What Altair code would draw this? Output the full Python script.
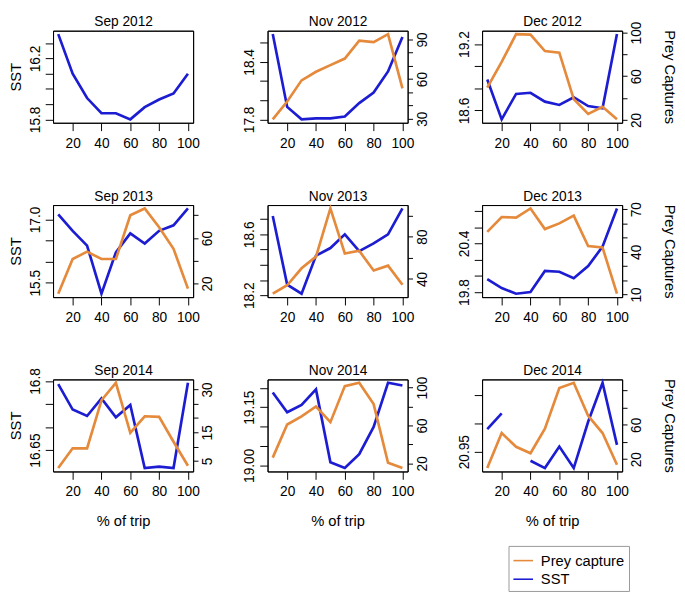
import altair as alt
import pandas as pd

# ---------------- data ----------------
pct = [10, 20, 30, 40, 50, 60, 70, 80, 90, 100]

titles = ["Sep 2012", "Nov 2012", "Dec 2012",
          "Sep 2013", "Nov 2013", "Dec 2013",
          "Sep 2014", "Nov 2014", "Dec 2014"]

sst_sep2012 = [16.36, 16.10, 15.94, 15.84, 15.84, 15.80, 15.88, 15.93, 15.97, 16.10]
sst_nov2012 = [18.69, 17.93, 17.80, 17.81, 17.81, 17.83, 17.97, 18.08, 18.30, 18.66]
sst_dec2012 = [18.88, 18.52, 18.75, 18.76, 18.68, 18.65, 18.72, 18.64, 18.62, 19.29]
sst_sep2013 = [17.12, 16.73, 16.38, 15.24, 16.22, 16.67, 16.43, 16.73, 16.86, 17.26]
sst_nov2013 = [18.72, 18.27, 18.21, 18.46, 18.51, 18.60, 18.49, 18.54, 18.60, 18.77]
sst_dec2013 = [19.96, 19.85, 19.78, 19.80, 20.06, 20.05, 19.97, 20.12, 20.36, 20.83]
sst_sep2014 = [16.793, 16.738, 16.724, 16.762, 16.721, 16.748, 16.611, 16.614, 16.611, 16.796]
sst_nov2014 = [19.188, 19.137, 19.156, 19.196, 19.008, 18.993, 19.029, 19.099, 19.213, 19.206]
sst_dec2014 = [20.990, 21.018, None, 20.934, 20.921, 20.959, 20.921, 21.003, 21.072, 20.962]

prey_nov2012 = [29.5, 43, 59, 65.5, 70.5, 75.5, 89, 88, 94, 53]
prey_dec2012 = [49.5, 73, 98.5, 98, 83, 81.5, 39, 25.5, 32, 20.5]
prey_sep2013 = [11, 41.5, 48, 41.5, 41.5, 80, 86, 69.5, 50.5, 15.5]
prey_nov2013 = [26, 34, 50, 61, 106.5, 64, 66.5, 48, 52.5, 34.5]
prey_dec2013 = [54, 64.5, 64, 70.5, 56, 60, 65.5, 44, 43, 10.5]
prey_sep2014 = [2.5, 9.4, 9.4, 26.2, 32.3, 14.8, 20.6, 20.4, 11.7, 3.3]
prey_nov2014 = [26, 61, 69.5, 80, 63.5, 101.5, 105, 82.5, 20.5, 15]
prey_dec2014 = [9.7, 50.5, 34.5, 27, 55.5, 103, 109, 70.5, 50.5, 13.5]

sst_series = [sst_sep2012, sst_nov2012, sst_dec2012,
              sst_sep2013, sst_nov2013, sst_dec2013,
              sst_sep2014, sst_nov2014, sst_dec2014]
prey_series = [None, prey_nov2012, prey_dec2012,
               prey_sep2013, prey_nov2013, prey_dec2013,
               prey_sep2014, prey_nov2014, prey_dec2014]

# tick values and tick labels ('' = tick without label)
sst_ticks = [
    [15.8, 15.9, 16.0, 16.1, 16.2, 16.3],
    [17.8, 18.0, 18.2, 18.4, 18.6],
    [18.6, 18.8, 19.0, 19.2],
    [15.5, 16.0, 16.5, 17.0],
    [18.2, 18.3, 18.4, 18.5, 18.6, 18.7],
    [19.8, 20.0, 20.2, 20.4, 20.6, 20.8],
    [16.65, 16.7, 16.75, 16.8],
    [19.0, 19.05, 19.1, 19.15, 19.2],
    [20.95, 21.0, 21.05],
]
sst_tick_labels = [
    ["15.8", "", "", "", "16.2", ""],
    ["17.8", "", "", "18.4", ""],
    ["18.6", "", "", "19.2"],
    ["15.5", "", "", "17.0"],
    ["18.2", "", "", "", "18.6", ""],
    ["19.8", "", "", "20.4", "", ""],
    ["16.65", "", "", "16.8"],
    ["19.00", "", "", "19.15", ""],
    ["20.95", "", ""],
]
prey_ticks = [
    [],
    [30, 40, 50, 60, 70, 80, 90],
    [20, 40, 60, 80, 100],
    [20, 40, 60, 80],
    [40, 60, 80, 100],
    [10, 20, 30, 40, 50, 60, 70],
    [5, 10, 15, 20, 25, 30],
    [20, 40, 60, 80, 100],
    [20, 40, 60, 80, 100],
]
prey_tick_labels = [
    [],
    ["30", "", "", "60", "", "", "90"],
    ["20", "", "60", "", "100"],
    ["20", "", "60", ""],
    ["40", "", "80", ""],
    ["10", "", "", "40", "", "", "70"],
    ["5", "", "15", "", "", "30"],
    ["20", "", "60", "", "100"],
    ["20", "", "60", "", ""],
]
x_ticks = [20, 40, 60, 80, 100]
series_names = ["Prey capture", "SST"]

# ---------------- styling ----------------
ORANGE = "#e5893b"
BLUE = "#1c1cd2"
FONT = "Liberation Sans"
PW, PH = 143, 94

color_scale = alt.Scale(domain=series_names, range=[ORANGE, BLUE])
legend = alt.Legend(title=None, orient="none", legendX=465, legendY=526,
                    symbolType="stroke", symbolSize=400, symbolStrokeWidth=1.6,
                    labelFontSize=15, labelFont=FONT, labelColor="black",
                    labelOffset=7, labelLimit=200, padding=4, rowPadding=0,
                    strokeColor="#999999", fillColor="white")


def label_expr(vals, labs):
    parts = []
    for v, s in zip(vals, labs):
        if s:
            parts.append(f"datum.value == {v} ? '{s}' : ")
    return "".join(parts) + "''"


def padded(vals):
    v = [a for a in vals if a is not None]
    if not v:
        return [0, 1]
    lo, hi = min(v), max(v)
    r = hi - lo
    return [lo - 0.04 * r, hi + 0.04 * r]


def records(vals, name):
    recs, seg = [], 0
    for p, v in zip(pct, vals or []):
        if v is None:
            seg += 1
            continue
        recs.append({"pct": p, "value": v, "series": name, "seg": seg})
    return pd.DataFrame(recs, columns=["pct", "value", "series", "seg"])


X_SCALE = alt.Scale(domain=[6.4, 103.6], nice=False, zero=False)


def make_panel(i):
    row, col = divmod(i, 3)
    x_bottom = alt.X("pct:Q", scale=X_SCALE,
                     axis=alt.Axis(orient="bottom", values=x_ticks, tickSize=8, labelPadding=6,
                                   labelFontSize=14, titleFontSize=15, titlePadding=15,
                                   titleFontWeight="normal", grid=False,
                                   domain=True, domainColor="black"),
                     title="% of trip" if row == 2 else None)
    x_top = alt.X("pct:Q", scale=X_SCALE,
                  axis=alt.Axis(orient="top", values=x_ticks, ticks=False, labels=False,
                                grid=False, domain=True, domainColor="black",
                                titleFontSize=14, titleFontWeight="normal",
                                titlePadding=5, titleBaseline="alphabetic"),
                  title=titles[i])
    sst = alt.Chart(records(sst_series[i], "SST")).mark_line(strokeWidth=2.7).encode(
        x=x_bottom,
        y=alt.Y("value:Q",
                scale=alt.Scale(domain=padded(sst_series[i]), nice=False, zero=False),
                axis=alt.Axis(orient="left", values=sst_ticks[i],
                              labelExpr=label_expr(sst_ticks[i], sst_tick_labels[i]),
                              labelAngle=270, labelAlign="center", labelBaseline="bottom",
                              tickSize=8, labelPadding=3, labelFontSize=14,
                              titleFontSize=15, titleFontWeight="normal", titlePadding=5,
                              grid=False, domain=True, domainColor="black"),
                title="SST" if col == 0 else None),
        color=alt.Color("series:N", scale=color_scale, legend=legend),
        detail="seg:N",
    )
    has_prey = prey_series[i] is not None
    prey = alt.Chart(records(prey_series[i], "Prey capture")).mark_line(strokeWidth=2.7).encode(
        x=x_top,
        y=alt.Y("value:Q",
                scale=alt.Scale(domain=padded(prey_series[i] or []), nice=False, zero=False),
                axis=alt.Axis(orient="right", values=prey_ticks[i],
                              labelExpr=label_expr(prey_ticks[i], prey_tick_labels[i]),
                              labelAngle=270, labelAlign="center", labelBaseline="top",
                              ticks=has_prey, labels=has_prey,
                              tickSize=5, labelPadding=3, labelFontSize=14,
                              titleFontSize=15, titleFontWeight="normal", titlePadding=18,
                              titleAngle=90, titleBaseline="bottom",
                              grid=False, domain=True, domainColor="black"),
                title="Prey Captures" if col == 2 else None),
        color=alt.Color("series:N", scale=color_scale, legend=legend),
    )
    return alt.layer(sst, prey).resolve_scale(y="independent").resolve_axis(
        x="independent", y="independent"
    ).properties(width=PW, height=PH)


panels = [make_panel(i) for i in range(9)]

chart = alt.concat(*panels, columns=3, spacing={"row": 84, "column": 76},
                   bounds="flush").properties(
    padding={"left": 0, "top": 0, "right": 0, "bottom": 0}
).configure(font=FONT).configure_view(
    stroke="black", strokeWidth=1
).configure_axis(
    labelColor="black", tickColor="black", titleColor="black", labelFont=FONT, titleFont=FONT,
    domainColor="black", domainWidth=1
)

chart.save("out.html", embed_options={"renderer": "svg", "actions": False})
